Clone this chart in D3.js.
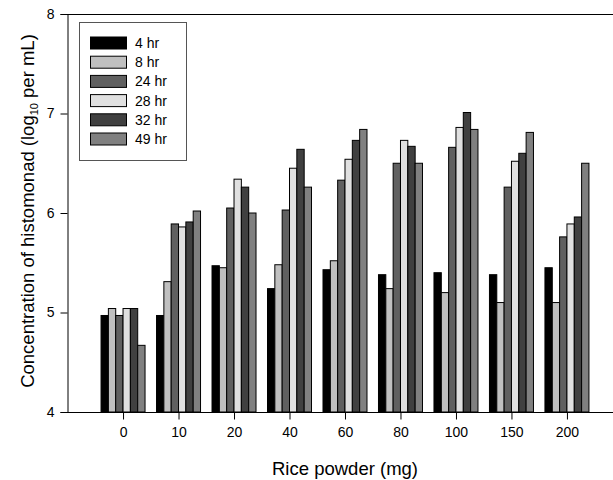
<!DOCTYPE html>
<html>
<head>
<meta charset="utf-8">
<script src="https://cdn.jsdelivr.net/npm/d3@7"></script>
<style>
body { margin: 0; background: #fff; }
text { font-family: Arial, "Liberation Sans", sans-serif; }
</style>
</head>
<body>
<svg id="chart" width="613" height="480"></svg>
<script>
const categories = ["0", "10", "20", "40", "60", "80", "100", "150", "200"];
const seriesNames = ["4 hr", "8 hr", "24 hr", "28 hr", "32 hr", "49 hr"];
const seriesColors = ["#000000", "#c0c0c0", "#606060", "#e0e0e0", "#404040", "#808080"];
const hr4  = [4.97, 4.97, 5.47, 5.24, 5.43, 5.38, 5.40, 5.38, 5.45];
const hr8  = [5.04, 5.31, 5.45, 5.48, 5.52, 5.24, 5.20, 5.10, 5.10];
const hr24 = [4.97, 5.89, 6.05, 6.03, 6.33, 6.50, 6.66, 6.26, 5.76];
const hr28 = [5.04, 5.86, 6.34, 6.45, 6.54, 6.73, 6.86, 6.52, 5.89];
const hr32 = [5.04, 5.91, 6.26, 6.64, 6.73, 6.67, 7.01, 6.60, 5.96];
const hr49 = [4.67, 6.02, 6.00, 6.26, 6.84, 6.50, 6.84, 6.81, 6.50];
const yTicks = [4, 5, 6, 7, 8];
const series = [hr4, hr8, hr24, hr28, hr32, hr49];

const svg = d3.select("#chart");
const mLeft = 67, mRight = 613, mTop = 14, mBottom = 412;

const y = d3.scaleLinear().domain([4, 8]).range([mBottom, mTop]);
const x = d3.scaleLinear().domain([-1.01, 8.83]).range([mLeft, mRight]);
const groupW = 44;
const xInner = d3.scaleBand().domain(d3.range(seriesNames.length)).range([-groupW / 2, groupW / 2]).padding(0);

series.forEach((vals, si) => {
  svg.append("g").selectAll("rect").data(vals).enter().append("rect")
    .attr("x", (d, i) => x(i) + xInner(si))
    .attr("y", d => y(d))
    .attr("width", xInner.bandwidth())
    .attr("height", d => y(4) - y(d))
    .attr("fill", seriesColors[si])
    .attr("stroke", "#000")
    .attr("stroke-width", 1);
});

svg.append("line").attr("x1", mLeft).attr("x2", mRight).attr("y1", mTop + 0.5).attr("y2", mTop + 0.5)
  .attr("stroke", "#000").attr("stroke-width", 1);

const yAxis = d3.axisLeft(y).tickValues(yTicks).tickSize(7).tickPadding(6).tickFormat(d3.format("d"));
const gy = svg.append("g").attr("transform", `translate(${mLeft + 0.5},0)`).call(yAxis);
gy.select(".domain").attr("stroke", "#000");
gy.selectAll("text").attr("font-size", 14).attr("fill", "#000").attr("font-family", "Arial, 'Liberation Sans', sans-serif");

const xAxis = d3.axisBottom(x).tickValues(d3.range(categories.length)).tickSize(7).tickPadding(8)
  .tickFormat(i => categories[i]);
const gx = svg.append("g").attr("transform", `translate(0,${mBottom + 0.5})`).call(xAxis);
gx.select(".domain").attr("d", `M${mLeft},0H${mRight}`).attr("stroke", "#000");
gx.selectAll("text").attr("font-size", 14).attr("fill", "#000").attr("font-family", "Arial, 'Liberation Sans', sans-serif");

svg.append("text").attr("x", 345).attr("y", 475).attr("text-anchor", "middle")
  .attr("font-size", 18.5).text("Rice powder (mg)");

const yt = svg.append("text").attr("transform", "translate(34,211) rotate(-90)")
  .attr("text-anchor", "middle").attr("font-size", 18.5);
yt.append("tspan").text("Concentration of histomonad (log");
yt.append("tspan").attr("font-size", 11).attr("dy", 4).text("10");
yt.append("tspan").attr("dy", -4).text(" per mL)");

const lg = svg.append("g");
lg.append("rect").attr("x", 79.5).attr("y", 22.5).attr("width", 107).attr("height", 138)
  .attr("fill", "#fff").attr("stroke", "#555").attr("stroke-width", 1);
seriesNames.forEach((name, i) => {
  const cy = 43 + i * 19.2;
  lg.append("rect").attr("x", 90.5).attr("y", cy - 6).attr("width", 36).attr("height", 12)
    .attr("fill", seriesColors[i]).attr("stroke", "#000").attr("stroke-width", 1);
  lg.append("text").attr("x", 135).attr("y", cy + 5).attr("font-size", 14).text(name);
});
</script>
</body>
</html>
